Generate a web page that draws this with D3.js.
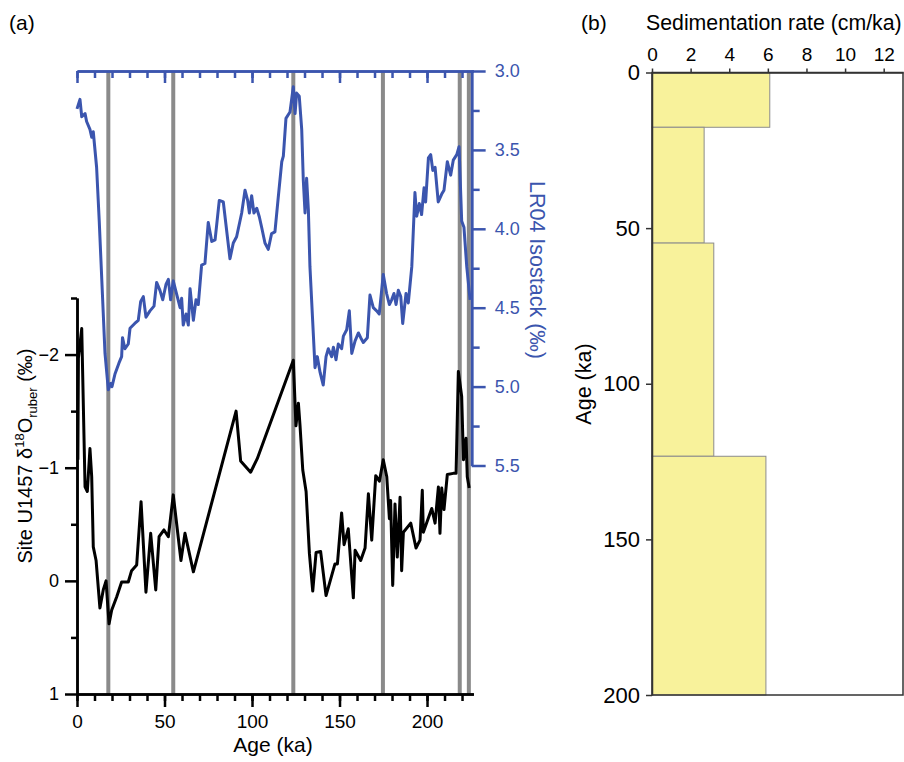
<!DOCTYPE html>
<meta charset="utf-8">
<title>Site U1457 d18O, LR04 and sedimentation rate</title>
<style>
body { margin: 0; background: white; font-family: Arial, "Liberation Sans", sans-serif; }
svg { display: block; background: white; }
</style>
<body>
<script src="https://d3js.org/d3.v7.min.js"></script>
<script>

// LR04 isostack (blue), age in ka and d18O in permil
var lr04Age = [0, 1.7, 2.7, 4.6, 5.5, 7.4, 8.4, 9.3, 11.2, 12.7, 16, 17.9, 19.2, 20, 21.7, 24, 25.5, 26, 27.4, 29.3,
  30.3, 33, 35, 36.4, 37.9, 39.4, 41.7, 44, 45.5, 47.4, 49, 50.9, 52.2, 53.5, 55, 57.3, 58.9, 59.8, 60.7, 62.3,
  63.6, 64.6, 66.5, 68, 69.3, 71.2, 73.1, 75, 77, 78.9, 81.3, 83.6, 87.4, 89.3, 91.2, 94.1, 96, 97.5, 98.5, 99.8,
  101.1, 102.7, 104.2, 105.5, 107.4, 109.3, 111.2, 113.1, 115, 117, 117.9, 119.4, 121.7, 123.6, 124.6, 125.5, 127, 128.4, 129.3, 130.3,
  131.2, 132.2, 133.1, 136, 137.3, 138.9, 140.7, 142.3, 143.6, 145.5, 146.5, 148, 149.3, 151.2, 152.2, 154.1, 155.6, 157, 158.9, 160.8,
  162.1, 163.6, 165.9, 167.4, 169.3, 171.2, 172.7, 175, 176.9, 178.5, 179.8, 181.1, 182.3, 183.6, 185, 186.1, 188, 189.3, 191.3, 193.1,
  194.1, 195.6, 196.9, 198.3, 199.2, 200.8, 202.1, 203.3, 204.6, 206.4, 208.4, 209.7, 211.6, 213.5, 215, 217, 218.3, 219.8, 221.1, 222.7, 224.6];
var lr04Val = [3.24, 3.18, 3.29, 3.27, 3.32, 3.37, 3.42, 3.385, 3.61, 3.95, 4.79, 5.02, 4.98, 5.0, 4.92, 4.85, 4.81, 4.69, 4.76, 4.73,
  4.63, 4.60, 4.58, 4.46, 4.43, 4.56, 4.52, 4.49, 4.34, 4.39, 4.45, 4.35, 4.32, 4.45, 4.33, 4.43, 4.50, 4.44, 4.61, 4.54,
  4.61, 4.38, 4.58, 4.45, 4.48, 4.23, 4.22, 3.96, 4.08, 4.07, 3.82, 3.83, 4.19, 4.09, 4.05, 3.90, 3.755, 3.82, 3.90, 3.79,
  3.90, 3.87, 3.925, 3.99, 4.09, 4.13, 4.03, 4.02, 3.80, 3.575, 3.54, 3.30, 3.26, 3.10, 3.27, 3.14, 3.16, 3.37, 3.69, 3.90,
  3.68, 3.88, 4.24, 4.88, 4.81, 4.91, 4.99, 4.81, 4.76, 4.81, 4.75, 4.83, 4.73, 4.76, 4.68, 4.64, 4.52, 4.79, 4.71, 4.66,
  4.69, 4.72, 4.69, 4.42, 4.50, 4.52, 4.54, 4.29, 4.41, 4.48, 4.45, 4.41, 4.48, 4.39, 4.43, 4.60, 4.41, 4.47, 4.24, 3.77,
  3.92, 3.84, 3.91, 3.74, 3.83, 3.55, 3.53, 3.63, 3.61, 3.83, 3.78, 3.755, 3.575, 3.66, 3.565, 3.53, 3.48, 3.95, 3.99, 4.24, 4.45];

// Site U1457 G. ruber d18O (black)
var u1457Age = [0.5, 0.8, 2.7, 4.6, 5.9, 7.4, 8.4, 9.3, 10.9, 13.1, 15, 16.6, 18.3, 19.8, 22.7, 25.5, 29.3, 31.2, 34.1, 36.6,
  39.4, 42.1, 45, 46.9, 49.7, 52.2, 55, 59.4, 61.7, 66.5, 90.9, 93.5, 99.2, 103, 123.6, 125.1, 126.5, 127.4, 129, 130.9,
  132.8, 134.7, 136.6, 139.2, 142.3, 147.4, 148.8, 151.2, 152.6, 155, 157.9, 158.9, 162.1, 164.6, 166.5, 168.4, 170.7, 172.8, 175, 177,
  178.5, 179.2, 180.4, 181.7, 183, 184.6, 185.5, 186.5, 190.7, 193.7, 196, 197.3, 197.9, 202.7, 204.6, 206.5, 207.4, 208.4, 209.7, 211.6,
  215, 216.6, 217.9, 219.8, 220.8, 222.3, 223, 224.1];
var u1457Val = [-1.07, -1.97, -2.23, -0.83, -0.79, -1.17, -0.92, -0.30, -0.18, 0.24, 0.08, 0.0, 0.38, 0.26, 0.14, 0.01, 0.01, -0.09, -0.14, -0.70,
  0.10, -0.42, 0.08, -0.39, -0.45, -0.39, -0.76, -0.18, -0.42, -0.08, -1.50, -1.06, -0.96, -1.08, -1.95, -1.37, -1.57, -1.38, -0.98, -0.79,
  -0.24, 0.09, -0.25, -0.26, 0.13, -0.15, -0.15, -0.60, -0.32, -0.46, 0.15, -0.27, -0.18, -0.29, -0.77, -0.36, -0.93, -0.88, -1.07, -0.92,
  -0.55, -0.71, 0.04, -0.68, -0.21, -0.74, -0.09, -0.43, -0.51, -0.29, -0.36, -0.80, -0.43, -0.64, -0.51, -0.83, -0.42, -0.82, -0.63, -0.94,
  -0.95, -0.95, -1.85, -1.63, -1.07, -1.26, -0.92, -0.82];

// gray marker lines (ka)
var markerAge = [17.9, 55.0, 123.6, 174.8, 218.7, 223.9];

// sedimentation rate intervals
var sedTop = [0, 17.6, 54.8, 123.3];
var sedBase = [17.6, 54.8, 123.3, 200];
var sedRate = [6.1, 2.7, 3.2, 5.9];

var blue = "#3b55ae";
var font = "Arial, 'Liberation Sans', sans-serif";

var svg = d3.select("body").append("svg")
    .attr("width", 904)
    .attr("height", 762);

// ---------- panel (a) ----------
var x = d3.scaleLinear().domain([0, 226.5]).range([77, 473.4]);
var yIso = d3.scaleLinear().domain([3.0, 5.5]).range([71, 465.5]);
var yO = d3.scaleLinear().domain([-2.5, 1]).range([298, 694]);
var xRight = x(225.5);

svg.append("g").selectAll("line")
  .data(markerAge)
  .enter().append("line")
    .attr("x1", function(d) { return x(d); })
    .attr("x2", function(d) { return x(d); })
    .attr("y1", yIso(3.0))
    .attr("y2", yO(1))
    .attr("stroke", "#8a8a8a")
    .attr("stroke-width", 4);

var lr04 = lr04Age.map(function(a, i) { return [a, lr04Val[i]]; });
var u1457 = u1457Age.map(function(a, i) { return [a, u1457Val[i]]; });

svg.append("path")
    .datum(lr04)
    .attr("d", d3.line().x(function(d) { return x(d[0]); }).y(function(d) { return yIso(d[1]); }))
    .attr("fill", "none")
    .attr("stroke", blue)
    .attr("stroke-width", 3)
    .attr("stroke-linejoin", "round");

svg.append("path")
    .datum(u1457)
    .attr("d", d3.line().x(function(d) { return x(d[0]); }).y(function(d) { return yO(d[1]); }))
    .attr("fill", "none")
    .attr("stroke", "black")
    .attr("stroke-width", 3)
    .attr("stroke-linejoin", "round");

function styleAxis(g, color, w, size) {
  g.attr("font-family", font).attr("font-size", size);
  g.select(".domain").attr("stroke", color).attr("stroke-width", w);
  g.selectAll(".tick line").attr("stroke", color).attr("stroke-width", w);
  g.selectAll(".tick text").attr("fill", color);
}

// bottom age axis
var gb1 = svg.append("g").attr("transform", "translate(0," + yO(1) + ")")
    .call(d3.axisBottom(x).tickValues(d3.range(0, 221, 10)).tickSize(7).tickSizeOuter(0).tickFormat(""));
styleAxis(gb1, "black", 2.5, 19);
var gb2 = svg.append("g").attr("transform", "translate(0," + yO(1) + ")")
    .call(d3.axisBottom(x).tickValues([0, 50, 100, 150, 200]).tickSize(13).tickSizeOuter(0).tickPadding(8)
      .tickFormat(d3.format("d")));
styleAxis(gb2, "black", 2.5, 19);

// top blue axis (ticks only)
var gt1 = svg.append("g").attr("transform", "translate(0," + yIso(3.0) + ")")
    .call(d3.axisTop(x).tickValues(d3.range(0, 221, 10)).tickSize(-7).tickSizeOuter(0).tickFormat(""));
styleAxis(gt1, blue, 2.5, 18);
var gt2 = svg.append("g").attr("transform", "translate(0," + yIso(3.0) + ")")
    .call(d3.axisTop(x).tickValues([0, 50, 100, 150, 200]).tickSize(-12).tickSizeOuter(0).tickFormat(""));
styleAxis(gt2, blue, 2.5, 18);

// left black axis
var gl1 = svg.append("g").attr("transform", "translate(" + x(0) + ",0)")
    .call(d3.axisLeft(yO).tickValues([-2.5, -1.5, -0.5, 0.5]).tickSize(6).tickSizeOuter(0).tickFormat(""));
styleAxis(gl1, "black", 2.5, 18);
var gl2 = svg.append("g").attr("transform", "translate(" + x(0) + ",0)")
    .call(d3.axisLeft(yO).tickValues([-2, -1, 0, 1]).tickSize(12).tickSizeOuter(0).tickPadding(6)
      .tickFormat(d3.format("d")));
styleAxis(gl2, "black", 2.5, 18);

// right blue axis
var gr1 = svg.append("g").attr("transform", "translate(" + xRight + ",0)")
    .call(d3.axisRight(yIso).tickValues([3.25, 3.75, 4.25, 4.75, 5.25]).tickSize(8).tickSizeOuter(0).tickFormat(""));
styleAxis(gr1, blue, 2.5, 18);
var gr2 = svg.append("g").attr("transform", "translate(" + xRight + ",0)")
    .call(d3.axisRight(yIso).tickValues([3.0, 3.5, 4.0, 4.5, 5.0, 5.5]).tickSize(14).tickSizeOuter(0).tickPadding(9)
      .tickFormat(d3.format(".1f")));
styleAxis(gr2, blue, 2.5, 18);

// titles
svg.append("text").attr("x", 9).attr("y", 30)
    .attr("font-family", font).attr("font-size", 21).text("(a)");

svg.append("text")
    .attr("x", 273).attr("y", 752)
    .attr("text-anchor", "middle")
    .attr("font-family", font).attr("font-size", 21)
    .text("Age (ka)");

var t1 = svg.append("text")
    .attr("transform", "translate(32,456) rotate(-90)")
    .attr("text-anchor", "middle")
    .attr("font-family", font).attr("font-size", 20);
t1.append("tspan").text("Site U1457 \u03b4");
t1.append("tspan").attr("font-size", 13).attr("dy", -8).text("18");
t1.append("tspan").attr("dy", 8).text("O");
t1.append("tspan").attr("font-size", 13).attr("dy", 5).text("ruber");
t1.append("tspan").attr("dy", -5).text(" (\u2030)");

svg.append("text")
    .attr("transform", "translate(530,270) rotate(90)")
    .attr("text-anchor", "middle")
    .attr("font-family", font).attr("font-size", 21.5)
    .attr("fill", blue)
    .text("LR04 Isostack (\u2030)");

// ---------- panel (b) ----------
var xs = d3.scaleLinear().domain([0, 13]).range([652, 903]);
var ya = d3.scaleLinear().domain([0, 200]).range([72.5, 695]);

svg.append("g").selectAll("rect")
  .data(sedRate)
  .enter().append("rect")
    .attr("x", xs(0))
    .attr("y", function(d, i) { return ya(sedTop[i]); })
    .attr("width", function(d) { return xs(d) - xs(0); })
    .attr("height", function(d, i) { return ya(sedBase[i]) - ya(sedTop[i]); })
    .attr("fill", "#f8f29b")
    .attr("stroke", "#8c8c8c")
    .attr("stroke-width", 1);

svg.append("rect")
    .attr("x", xs(0)).attr("y", ya(0))
    .attr("width", xs(13) - xs(0)).attr("height", ya(200) - ya(0))
    .attr("fill", "none").attr("stroke", "#333").attr("stroke-width", 1.5);

var gbt = svg.append("g").attr("transform", "translate(0," + ya(0) + ")")
    .call(d3.axisTop(xs).tickValues([0, 2, 4, 6, 8, 10, 12]).tickSize(4).tickSizeOuter(0).tickPadding(8));
styleAxis(gbt, "#333", 1.5, 19);

var gbl = svg.append("g").attr("transform", "translate(" + xs(0) + ",0)")
    .call(d3.axisLeft(ya).tickValues([0, 50, 100, 150, 200]).tickSize(6).tickSizeOuter(0).tickPadding(6));
styleAxis(gbl, "#333", 1.5, 22);
gbl.selectAll(".tick text").attr("fill", "black");
gbt.selectAll(".tick text").attr("fill", "black");

svg.append("text").attr("x", 581).attr("y", 30)
    .attr("font-family", font).attr("font-size", 21).text("(b)");

svg.append("text").attr("x", 646).attr("y", 30)
    .attr("font-family", font).attr("font-size", 21.3)
    .text("Sedimentation rate (cm/ka)");

svg.append("text")
    .attr("transform", "translate(591,384) rotate(-90)")
    .attr("text-anchor", "middle")
    .attr("font-family", font).attr("font-size", 21.5)
    .text("Age (ka)");

</script>
</body>
